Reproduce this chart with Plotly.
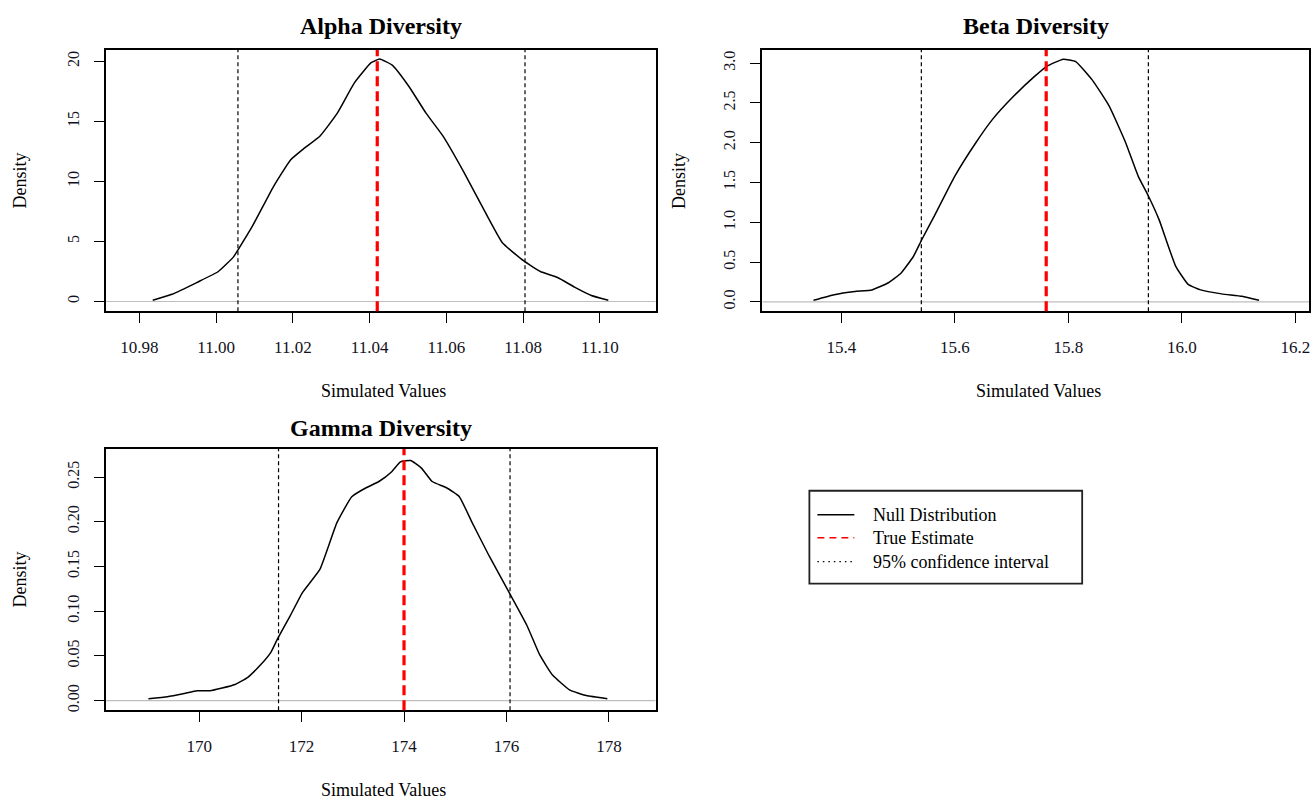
import plotly.graph_objects as go

# ---------------- data ----------------
alpha_x = [10.9835, 10.9885, 10.9951, 11.0006, 11.0045, 11.0058, 11.0095, 11.0150, 11.0194, 11.0227,
           11.0271, 11.0316, 11.0360, 11.0404, 11.0426, 11.0459, 11.0503, 11.0547, 11.0591, 11.0647,
           11.0702, 11.0746, 11.0801, 11.0845, 11.0890, 11.0934, 11.0978, 11.1022]
alpha_y = [0.1, 0.6, 1.6, 2.5, 3.7, 4.35, 6.3, 9.6, 11.8, 12.7,
           13.8, 15.7, 18.2, 19.9, 20.2, 19.7, 17.9, 15.7, 13.8, 10.7,
           7.4, 4.9, 3.4, 2.5, 2.0, 1.2, 0.5, 0.1]
alpha_true = 11.042
alpha_ci = [11.0057, 11.0805]

beta_x = [15.351, 15.3875, 15.424, 15.454, 15.483, 15.505, 15.527, 15.5417, 15.564, 15.600,
          15.637, 15.666, 15.703, 15.740, 15.762, 15.791, 15.813, 15.842, 15.872, 15.901,
          15.923, 15.941, 15.960, 15.989, 16.011, 16.033, 16.070, 16.106, 16.136]
beta_y = [0.02, 0.09, 0.13, 0.15, 0.24, 0.36, 0.57, 0.78, 1.08, 1.58,
          2.0, 2.29, 2.58, 2.83, 2.96, 3.05, 3.02, 2.79, 2.46, 2.0,
          1.58, 1.33, 1.03, 0.45, 0.22, 0.15, 0.10, 0.07, 0.02]
beta_true = 15.761
beta_ci = [15.541, 15.941]

gamma_x = [169.01, 169.38, 169.71, 169.96, 170.21, 170.45, 170.70, 170.95, 171.20, 171.40,
           171.53, 171.78, 172.02, 172.36, 172.69, 172.98, 173.26, 173.51, 173.76, 173.93,
           174.13, 174.34, 174.55, 174.83, 175.08, 175.33, 175.66, 176.07, 176.40, 176.65,
           176.90, 177.23, 177.56, 177.97]
gamma_y = [0.002, 0.0044, 0.008, 0.011, 0.011, 0.014, 0.018, 0.026, 0.040, 0.054,
           0.069, 0.095, 0.121, 0.147, 0.199, 0.228, 0.238, 0.245, 0.256, 0.267,
           0.2685, 0.260, 0.245, 0.238, 0.228, 0.199, 0.162, 0.119, 0.084, 0.051,
           0.0285, 0.012, 0.0056, 0.002]
gamma_true = 174.0
gamma_ci = [171.55, 176.07]

panel_titles = ["Alpha Diversity", "Beta Diversity", "Gamma Diversity"]
x_label = "Simulated Values"
y_label = "Density"
legend_labels = ["Null Distribution", "True Estimate", "95% confidence interval"]

alpha_xticks = [10.98, 11.00, 11.02, 11.04, 11.06, 11.08, 11.10]
alpha_xtext = ["10.98", "11.00", "11.02", "11.04", "11.06", "11.08", "11.10"]
alpha_yticks = [0, 5, 10, 15, 20]
alpha_ytext = ["0", "5", "10", "15", "20"]
beta_xticks = [15.4, 15.6, 15.8, 16.0, 16.2]
beta_xtext = ["15.4", "15.6", "15.8", "16.0", "16.2"]
beta_yticks = [0, 0.5, 1.0, 1.5, 2.0, 2.5, 3.0]
beta_ytext = ["0.0", "0.5", "1.0", "1.5", "2.0", "2.5", "3.0"]
gamma_xticks = [170, 172, 174, 176, 178]
gamma_xtext = ["170", "172", "174", "176", "178"]
gamma_yticks = [0, 0.05, 0.10, 0.15, 0.20, 0.25]
gamma_ytext = ["0.00", "0.05", "0.10", "0.15", "0.20", "0.25"]

# ---------------- figure ----------------
W, H = 1314, 803
FONT = "Liberation Serif"

def px_x(p):
    return p / W

def px_y(p):
    return 1 - p / H

fig = go.Figure()

panels = [
    dict(xs=alpha_x, ys=alpha_y, tv=alpha_true, ci=alpha_ci, xa="x", ya="y",
         xdom=[106, 656], ydom=[50, 312], xr=[10.9713, 11.1145], yr=[-0.81, 20.97],
         xt=(alpha_xticks, alpha_xtext), yt=(alpha_yticks, alpha_ytext), title=panel_titles[0],
         dens_x=20, title_off=24),
    dict(xs=beta_x, ys=beta_y, tv=beta_true, ci=beta_ci, xa="x2", ya="y2",
         xdom=[763, 1310], ydom=[50, 312], xr=[15.261, 16.224], yr=[-0.118, 3.167],
         xt=(beta_xticks, beta_xtext), yt=(beta_yticks, beta_ytext), title=panel_titles[1],
         dens_x=679, title_off=24),
    dict(xs=gamma_x, ys=gamma_y, tv=gamma_true, ci=gamma_ci, xa="x3", ya="y3",
         xdom=[106, 656], ydom=[450, 712], xr=[168.18, 178.91], yr=[-0.0108, 0.2815],
         xt=(gamma_xticks, gamma_xtext), yt=(gamma_yticks, gamma_ytext), title=panel_titles[2],
         dens_x=20, title_off=21),
]

shapes = []
annotations = []
layout_axes = {}

for i, p in enumerate(panels):
    n = "" if i == 0 else str(i + 1)
    fig.add_trace(go.Scatter(x=p["xs"], y=p["ys"], mode="lines", xaxis=p["xa"], yaxis=p["ya"],
                             line=dict(color="black", width=1.5, shape="spline", smoothing=0.4),
                             showlegend=False, hoverinfo="skip"))
    # zero line (gray)
    shapes.append(dict(type="line", xref=f"{p['xa']} domain", yref=p["ya"], x0=0, x1=1, y0=0, y1=0,
                       line=dict(color="#bebebe", width=1.2), layer="below"))
    # CI lines
    for c in p["ci"]:
        shapes.append(dict(type="line", xref=p["xa"], yref=f"{p['ya']} domain", x0=c, x1=c, y0=0, y1=1,
                           line=dict(color="black", width=1.2, dash="4px,3px")))
    # true estimate
    shapes.append(dict(type="line", xref=p["xa"], yref=f"{p['ya']} domain", x0=p["tv"], x1=p["tv"],
                       y0=0, y1=1, line=dict(color="#ff0000", width=3.2, dash="10px,5px")))

    axis_common = dict(showgrid=False, zeroline=False, showline=True, mirror=True,
                       linecolor="black", linewidth=2, ticks="outside", ticklen=10,
                       tickwidth=1.2, tickcolor="black")
    layout_axes[f"xaxis{n}"] = dict(axis_common, domain=[px_x(p["xdom"][0]), px_x(p["xdom"][1])],
                                    range=p["xr"], anchor=p["ya"], tickmode="array",
                                    tickvals=p["xt"][0], ticktext=p["xt"][1],
                                    tickfont=dict(family=FONT, size=17, color="#111122"),
                                    ticklabelstandoff=9)
    layout_axes[f"yaxis{n}"] = dict(axis_common, domain=[px_y(p["ydom"][1]), px_y(p["ydom"][0])],
                                    range=p["yr"], anchor=p["xa"], tickmode="array",
                                    tickvals=p["yt"][0], ticktext=p["yt"][1], tickangle=-90,
                                    tickfont=dict(family=FONT, size=16, color="#111122"),
                                    ticklabelstandoff=9)

    cx = (p["xdom"][0] + p["xdom"][1]) / 2
    annotations.append(dict(text=f"<b>{p['title']}</b>", xref="paper", yref="paper",
                            x=px_x(cx), y=px_y(p["ydom"][0] - p["title_off"]), xanchor="center",
                            yanchor="middle", showarrow=False,
                            font=dict(family=FONT, size=24, color="black")))
    annotations.append(dict(text=x_label, xref="paper", yref="paper",
                            x=px_x(cx + 3), y=px_y(p["ydom"][1] + 80), xanchor="center", yanchor="middle",
                            showarrow=False, font=dict(family=FONT, size=18, color="black")))
    annotations.append(dict(text=y_label, xref="paper", yref="paper", textangle=-90,
                            x=px_x(p["dens_x"]), y=px_y((p["ydom"][0] + p["ydom"][1]) / 2),
                            xanchor="center", yanchor="middle",
                            showarrow=False, font=dict(family=FONT, size=18, color="black")))

# ---------------- legend (manual) ----------------
shapes.append(dict(type="rect", xref="paper", yref="paper", x0=px_x(810), x1=px_x(1083),
                   y0=px_y(585), y1=px_y(492), line=dict(color="#222222", width=1.8),
                   fillcolor="white"))
legend_styles = [dict(color="black", width=1.5, dash="solid"),
                 dict(color="#ff0000", width=1.5, dash="7px,5px"),
                 dict(color="black", width=1.2, dash="1.5px,4px")]
legend_rows = [516, 539, 563]
for lab, sty, ry in zip(legend_labels, legend_styles, legend_rows):
    shapes.append(dict(type="line", xref="paper", yref="paper", x0=px_x(818), x1=px_x(855),
                       y0=px_y(ry), y1=px_y(ry), line=sty))
    annotations.append(dict(text=lab, xref="paper", yref="paper", x=px_x(872), y=px_y(ry),
                            xanchor="left", yanchor="middle", showarrow=False,
                            font=dict(family=FONT, size=18, color="black")))

fig.update_layout(
    width=W, height=H, margin=dict(l=0, r=0, t=0, b=0),
    paper_bgcolor="white", plot_bgcolor="white",
    shapes=shapes, annotations=annotations, showlegend=False,
    **layout_axes,
)

fig.write_html("out.html")
